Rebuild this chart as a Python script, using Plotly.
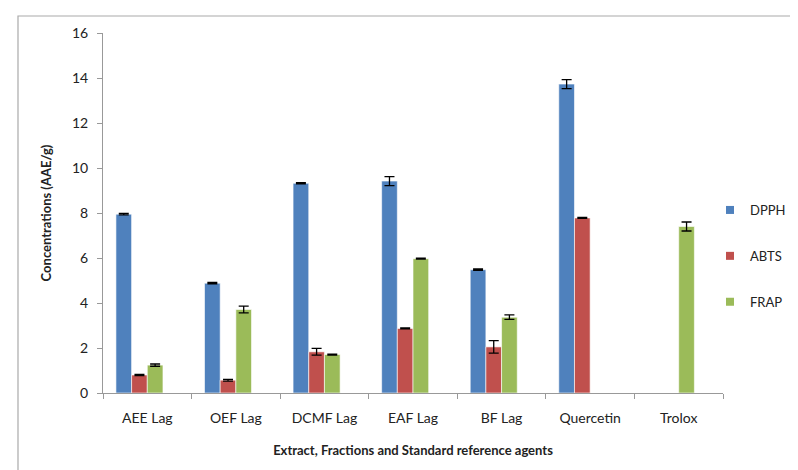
import plotly.graph_objects as go

categories = ["AEE Lag", "OEF Lag", "DCMF Lag", "EAF Lag", "BF Lag", "Quercetin", "Trolox"]
dpph = [7.95, 4.88, 9.32, 9.42, 5.48, 13.73, None]
dpph_err = [0.03, 0.03, 0.03, 0.2, 0.03, 0.2, 0]
abts = [0.80, 0.57, 1.83, 2.87, 2.05, 7.78, None]
abts_err = [0.03, 0.04, 0.15, 0.02, 0.28, 0.02, 0]
frap = [1.24, 3.71, 1.71, 5.97, 3.37, None, 7.40]
frap_err = [0.05, 0.15, 0.02, 0.02, 0.1, 0, 0.2]

series = [("DPPH", dpph, dpph_err, "#4f81bd"),
          ("ABTS", abts, abts_err, "#c0504d"),
          ("FRAP", frap, frap_err, "#9bbb59")]

W = 0.177
fig = go.Figure()
for i, (name, vals, errs, col) in enumerate(series):
    fig.add_trace(go.Bar(
        name=name, x=categories, y=vals,
        width=W, offset=-2 * W + i * W,
        marker=dict(color=col, line=dict(color="rgba(255,255,255,0.6)", width=1)),
        error_y=dict(type="data", array=errs, visible=True, color="black",
                     thickness=1.3, width=5, symmetric=True),
        showlegend=False,
    ))
for name, vals, errs, col in series:
    fig.add_trace(go.Scatter(
        name=name, x=[None], y=[None], mode="markers",
        marker=dict(symbol="square", size=8, color=col),
        legendgroup=name, showlegend=True,
    ))

ml, mr, mt, mb = 95, 83, 25, 85
pw, ph = 798 - ml - mr, 470 - mt - mb

def px_x(v):
    return (v - ml) / pw

def px_y(v):
    return (470 - mb - v) / ph

fig.update_layout(
    width=798, height=470,
    margin=dict(l=ml, r=mr, t=mt, b=mb, autoexpand=False),
    paper_bgcolor="white", plot_bgcolor="white",
    font=dict(family="Lato, Open Sans, sans-serif", size=13, color="#222"),
    barmode="overlay",
    showlegend=True,
    legend=dict(x=px_x(702), y=px_y(248), xanchor="left", yanchor="middle",
                traceorder="grouped", tracegroupgap=26,
                font=dict(size=13, color="#222"), itemwidth=30,
                bgcolor="rgba(0,0,0,0)"),
    xaxis=dict(
        showline=True, linecolor="#999", linewidth=1,
        ticks="outside", tickson="boundaries", ticklen=5, tickcolor="#999",
        showgrid=False, ticklabelstandoff=12,
        title=dict(text="<b>Extract, Fractions and Standard reference agents</b>",
                   font=dict(size=13), standoff=21),
        tickfont=dict(size=14),
    ),
    yaxis=dict(
        range=[0, 16], dtick=2,
        showline=True, linecolor="#999", linewidth=1,
        ticks="outside", ticklen=5, tickcolor="#999",
        showgrid=False, zeroline=False, ticklabelstandoff=6,
        title=dict(text="<b>Concentrations (AAE/g)</b>", font=dict(size=13), standoff=17),
        tickfont=dict(size=14),
    ),
    shapes=[dict(type="rect", xref="paper", yref="paper",
                 x0=px_x(10), x1=px_x(805), y0=px_y(480), y1=px_y(8),
                 line=dict(color="#aaa", width=1.2), fillcolor="rgba(0,0,0,0)",
                 layer="below")],
)

fig.write_html("out.html")
